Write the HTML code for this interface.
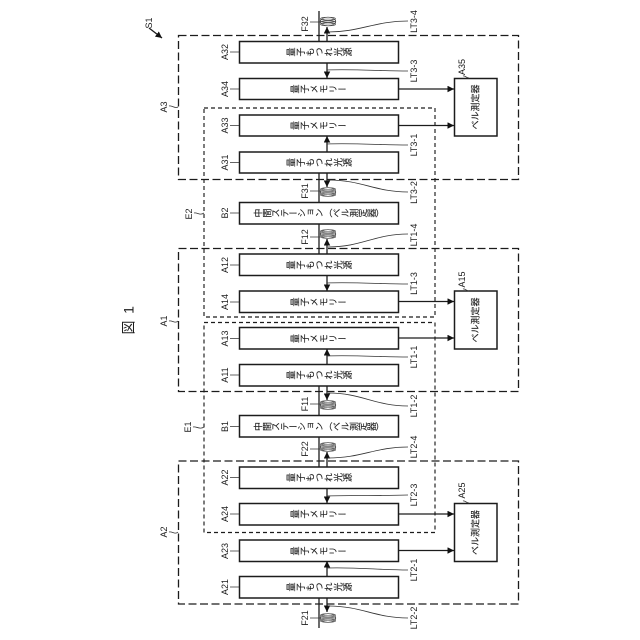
<!DOCTYPE html>
<html><head><meta charset="utf-8"><style>
html,body{margin:0;padding:0;background:#fff;width:640px;height:640px;overflow:hidden}
svg{display:block}
.b{fill:#fff;stroke:#1c1c1c;stroke-width:1.5}
.d{fill:none;stroke:#1c1c1c;stroke-width:1.3;stroke-dasharray:8 3.5}
.e{fill:none;stroke:#1c1c1c;stroke-width:1.15;stroke-dasharray:4 3}
.l{fill:none;stroke:#1c1c1c;stroke-width:1.3}
.t{fill:none;stroke:#333;stroke-width:.8}
.v{font-family:"Noto Sans CJK JP","Liberation Sans",sans-serif;font-size:9px;letter-spacing:.4px;writing-mode:vertical-rl;text-anchor:middle;fill:#1c1c1c;stroke:#1c1c1c;stroke-width:.1}
.m{font-family:"Liberation Sans","Noto Sans CJK JP",sans-serif;font-size:9px;text-anchor:middle;dominant-baseline:central;fill:#1c1c1c}
.j{font-family:"Liberation Sans","Noto Sans CJK JP",sans-serif;font-size:9px;text-anchor:middle;dominant-baseline:central;fill:#1c1c1c;stroke:#1c1c1c;stroke-width:.1}
</style></head><body>
<svg width="640" height="640" viewBox="0 0 640 640" xmlns="http://www.w3.org/2000/svg">
<defs>
<marker id="a" viewBox="0 0 10 10" refX="10" refY="5" markerWidth="6.5" markerHeight="6.5" markerUnits="userSpaceOnUse" orient="auto"><path d="M0 0L10 5L0 10Z" fill="#111"/></marker>
<g id="c" fill="none" stroke="#444" stroke-width=".6"><ellipse cx="328" cy="0" rx="7.8" ry="4.3" fill="#fff"/><ellipse cx="328" cy="-2.7" rx="7.6" ry="1.6"/><ellipse cx="328" cy="-.9" rx="7.6" ry="1.6"/><ellipse cx="328" cy=".9" rx="7.6" ry="1.6"/><ellipse cx="328" cy="2.7" rx="7.6" ry="1.6"/></g>
</defs>

<!-- fibre lines -->
<path class="l" d="M319 11V42M319 173V203M319 224V254M319 386V416M319 437V467M319 598V628"/>
<use href="#c" y="21.5"/><use href="#c" y="192"/><use href="#c" y="234"/><use href="#c" y="405"/><use href="#c" y="447"/><use href="#c" y="618"/>

<!-- dashed -->
<rect class="d" x="178.5" y="35.5" width="340" height="144"/>
<rect class="d" x="178.5" y="248.5" width="340" height="143"/>
<rect class="d" x="178.5" y="461" width="340" height="143"/>
<rect class="e" x="204" y="108" width="231" height="209"/>
<rect class="e" x="204" y="322.5" width="231" height="210"/>

<!-- boxes -->
<rect class="b" x="239.5" y="41.5" width="159" height="21.5"/>
<rect class="b" x="239.5" y="78.5" width="159" height="21"/>
<rect class="b" x="239.5" y="115" width="159" height="21"/>
<rect class="b" x="239.5" y="152" width="159" height="21"/>
<rect class="b" x="239.5" y="202.5" width="159" height="21.5"/>
<rect class="b" x="239.5" y="254" width="159" height="21.5"/>
<rect class="b" x="239.5" y="291" width="159" height="21.5"/>
<rect class="b" x="239.5" y="327.5" width="159" height="21.5"/>
<rect class="b" x="239.5" y="364.5" width="159" height="21.5"/>
<rect class="b" x="239.5" y="415.5" width="159" height="21.5"/>
<rect class="b" x="239.5" y="467" width="159" height="21.5"/>
<rect class="b" x="239.5" y="503.5" width="159" height="21.5"/>
<rect class="b" x="239.5" y="540" width="159" height="21.5"/>
<rect class="b" x="239.5" y="576.5" width="159" height="21.5"/>
<rect class="b" x="454.5" y="78.5" width="42.5" height="57.5"/>
<rect class="b" x="454.5" y="291" width="42.5" height="58"/>
<rect class="b" x="454.5" y="503.5" width="42.5" height="58"/>

<!-- arrows -->
<g class="l">
<path class="l" marker-end="url(#a)" d="M327 41V27"/>
<path class="l" marker-end="url(#a)" d="M327 63V78"/>
<path class="l" marker-end="url(#a)" d="M327 152V136"/>
<path class="l" marker-end="url(#a)" d="M327 173V187"/>
<path class="l" marker-end="url(#a)" d="M327 254V239"/>
<path class="l" marker-end="url(#a)" d="M327 275V291"/>
<path class="l" marker-end="url(#a)" d="M327 364V349"/>
<path class="l" marker-end="url(#a)" d="M327 386V400"/>
<path class="l" marker-end="url(#a)" d="M327 467V452"/>
<path class="l" marker-end="url(#a)" d="M327 488V503"/>
<path class="l" marker-end="url(#a)" d="M327 576V561"/>
<path class="l" marker-end="url(#a)" d="M327 598V612"/>
<path class="l" marker-end="url(#a)" d="M398 89H454"/>
<path class="l" marker-end="url(#a)" d="M398 125.5H454"/>
<path class="l" marker-end="url(#a)" d="M398 301.5H454"/>
<path class="l" marker-end="url(#a)" d="M398 338H454"/>
<path class="l" marker-end="url(#a)" d="M398 514H454"/>
<path class="l" marker-end="url(#a)" d="M398 550.5H454"/>
</g>

<!-- leaders -->
<path class="t" d="M328 32C360 32 375 21 408 21M327 70C355 69 380 71 408 71M327 144C355 143 380 145 408 145M328 180C362 180 375 192 408 192M328 247C362 247 375 234 408 234M327 283C355 282 380 284 408 284M327 356C355 355 380 357 408 357M328 393C362 393 375 406 408 406M328 458C362 458 375 447 408 447M327 496C355 495 380 496 408 495M327 568C355 567 380 570 408 570M328 606C362 606 375 618 408 618"/>
<path class="t" d="M230 52H239M230 89H239M230 125.5H239M230 162.5H239M230 213H239M230 265H239M230 302H239M230 338.5H239M230 375H239M230 426.5H239M230 477.5H239M230 514H239M230 551H239M230 587H239"/>
<path class="t" d="M310 22H320M310 191H320M310 237H320M310 404H320M310 449H320M310 618H320M169 106C172 105 175 109 178 107M194 213C197 212 200 216 204 213M169 321C172 320 175 324 178 321M193 427C196 426 200 430 204 427M169 532C172 531 175 535 178 532"/>
<path class="t" d="M463 76C465 75 466 78 469 78M463 289C465 288 466 291 469 291M463 501C465 500 466 503 469 503"/>
<path class="l" marker-end="url(#a)" d="M149 28L162 38"/>

<!-- vertical-writing box labels rotated -->
<g>
<text class="v" transform="rotate(-90 319.5 52)" x="319.5" y="52">量子もつれ光源</text>
<text class="v" transform="rotate(-90 319 89)" x="319" y="89">量子メモリー</text>
<text class="v" transform="rotate(-90 319 125.5)" x="319" y="125.5">量子メモリー</text>
<text class="v" transform="rotate(-90 319.5 162.5)" x="319.5" y="162.5">量子もつれ光源</text>
<text class="v" style="letter-spacing:-.3px" transform="rotate(-90 319 213)" x="319" y="213">中間ステーション（ベル測定器）</text>
<text class="v" transform="rotate(-90 319.5 265)" x="319.5" y="265">量子もつれ光源</text>
<text class="v" transform="rotate(-90 319 302)" x="319" y="302">量子メモリー</text>
<text class="v" transform="rotate(-90 319 338.5)" x="319" y="338.5">量子メモリー</text>
<text class="v" transform="rotate(-90 319.5 375)" x="319.5" y="375">量子もつれ光源</text>
<text class="v" style="letter-spacing:-.3px" transform="rotate(-90 319 426.5)" x="319" y="426.5">中間ステーション（ベル測定器）</text>
<text class="v" transform="rotate(-90 319.5 477.5)" x="319.5" y="477.5">量子もつれ光源</text>
<text class="v" transform="rotate(-90 319 514)" x="319" y="514">量子メモリー</text>
<text class="v" transform="rotate(-90 319 551)" x="319" y="551">量子メモリー</text>
<text class="v" transform="rotate(-90 319.5 587)" x="319.5" y="587">量子もつれ光源</text>
</g>

<!-- rotated labels -->
<text class="j" transform="rotate(-90 475.5 107)" x="475.5" y="107">ベル測定器</text>
<text class="j" transform="rotate(-90 475.5 320)" x="475.5" y="320">ベル測定器</text>
<text class="j" transform="rotate(-90 475.5 532.5)" x="475.5" y="532.5">ベル測定器</text>

<g>
<text class="m" transform="rotate(-90 225 52)" x="225" y="52">A32</text>
<text class="m" transform="rotate(-90 225 89)" x="225" y="89">A34</text>
<text class="m" transform="rotate(-90 225 125.5)" x="225" y="125.5">A33</text>
<text class="m" transform="rotate(-90 225 162.5)" x="225" y="162.5">A31</text>
<text class="m" transform="rotate(-90 225 213)" x="225" y="213">B2</text>
<text class="m" transform="rotate(-90 225 265)" x="225" y="265">A12</text>
<text class="m" transform="rotate(-90 225 302)" x="225" y="302">A14</text>
<text class="m" transform="rotate(-90 225 338.5)" x="225" y="338.5">A13</text>
<text class="m" transform="rotate(-90 225 375)" x="225" y="375">A11</text>
<text class="m" transform="rotate(-90 225 426.5)" x="225" y="426.5">B1</text>
<text class="m" transform="rotate(-90 225 477.5)" x="225" y="477.5">A22</text>
<text class="m" transform="rotate(-90 225 514)" x="225" y="514">A24</text>
<text class="m" transform="rotate(-90 225 551)" x="225" y="551">A23</text>
<text class="m" transform="rotate(-90 225 587)" x="225" y="587">A21</text>

<text class="m" transform="rotate(-90 305 24)" x="305" y="24">F32</text>
<text class="m" transform="rotate(-90 305 191)" x="305" y="191">F31</text>
<text class="m" transform="rotate(-90 305 237)" x="305" y="237">F12</text>
<text class="m" transform="rotate(-90 305 404)" x="305" y="404">F11</text>
<text class="m" transform="rotate(-90 305 449)" x="305" y="449">F22</text>
<text class="m" transform="rotate(-90 305 618)" x="305" y="618">F21</text>

<text class="m" transform="rotate(-90 164 107)" x="164" y="107">A3</text>
<text class="m" transform="rotate(-90 164 321)" x="164" y="321">A1</text>
<text class="m" transform="rotate(-90 164 532)" x="164" y="532">A2</text>
<text class="m" transform="rotate(-90 189 214)" x="189" y="214">E2</text>
<text class="m" transform="rotate(-90 188 427)" x="188" y="427">E1</text>

<text class="m" transform="rotate(-90 462 67)" x="462" y="67">A35</text>
<text class="m" transform="rotate(-90 462 279.5)" x="462" y="279.5">A15</text>
<text class="m" transform="rotate(-90 462 490.5)" x="462" y="490.5">A25</text>

<text class="m" transform="rotate(-90 414 21.5)" x="414" y="21.5">LT3-4</text>
<text class="m" transform="rotate(-90 414 71)" x="414" y="71">LT3-3</text>
<text class="m" transform="rotate(-90 414 145)" x="414" y="145">LT3-1</text>
<text class="m" transform="rotate(-90 414 192.5)" x="414" y="192.5">LT3-2</text>
<text class="m" transform="rotate(-90 414 235)" x="414" y="235">LT1-4</text>
<text class="m" transform="rotate(-90 414 283.5)" x="414" y="283.5">LT1-3</text>
<text class="m" transform="rotate(-90 414 357)" x="414" y="357">LT1-1</text>
<text class="m" transform="rotate(-90 414 406)" x="414" y="406">LT1-2</text>
<text class="m" transform="rotate(-90 414 447)" x="414" y="447">LT2-4</text>
<text class="m" transform="rotate(-90 414 495)" x="414" y="495">LT2-3</text>
<text class="m" transform="rotate(-90 414 570)" x="414" y="570">LT2-1</text>
<text class="m" transform="rotate(-90 414 618)" x="414" y="618">LT2-2</text>

<text class="m" transform="rotate(-90 149 23)" x="149" y="23">S1</text>
<text class="m" style="font-size:14px;font-family:'Noto Sans CJK JP',sans-serif" transform="rotate(-90 128.5 327.5)" x="128.5" y="327.5">図</text>
<text class="m" style="font-size:14px" transform="rotate(-90 128.5 310)" x="128.5" y="310">1</text>
</g>
</svg>
</body></html>
